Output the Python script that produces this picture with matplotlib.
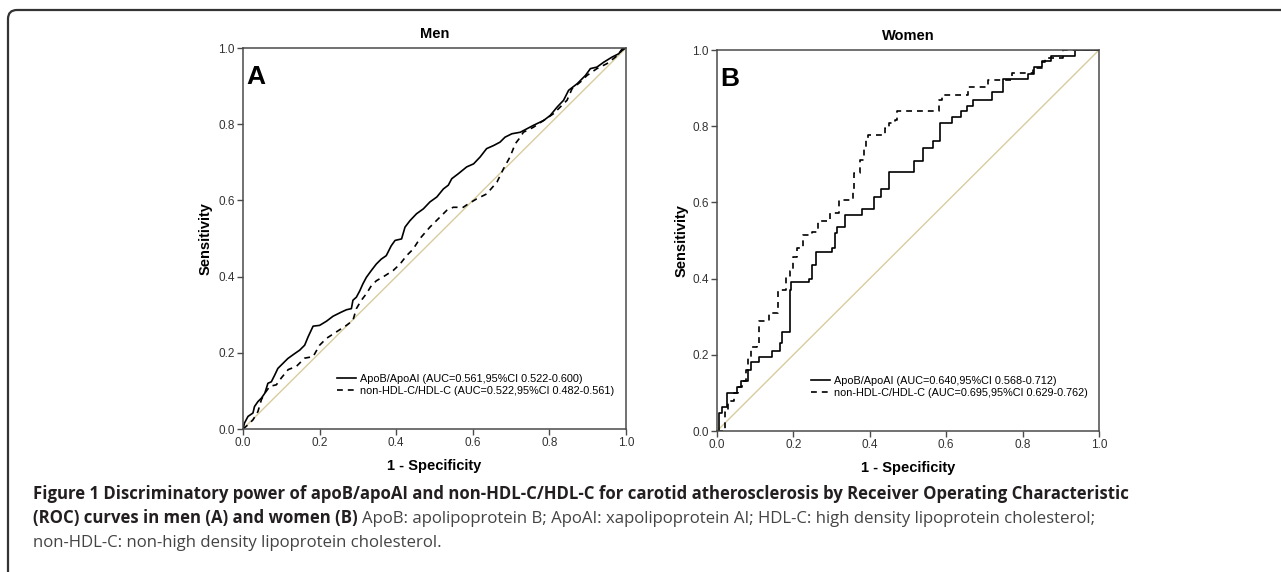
import numpy as np
import matplotlib
matplotlib.use('Agg')
import matplotlib.pyplot as plt
from matplotlib.patches import FancyBboxPatch
from matplotlib.transforms import IdentityTransform

plt.rcParams['font.family'] = ['Liberation Sans', 'DejaVu Sans']

# Men: ROC points (1 - specificity, sensitivity)
men_apob_fpr = [0.0, 0.004, 0.013, 0.026, 0.03, 0.039, 0.048, 0.057, 0.065, 0.074, 0.083, 0.091,
                0.104, 0.117, 0.135, 0.148, 0.161, 0.17, 0.183, 0.2, 0.218, 0.235, 0.257, 0.27,
                0.283, 0.287, 0.296, 0.305, 0.313, 0.322, 0.335, 0.348, 0.361, 0.374, 0.387, 0.397,
                0.414, 0.423, 0.436, 0.453, 0.471, 0.488, 0.506, 0.523, 0.536, 0.545, 0.562, 0.584,
                0.602, 0.619, 0.636, 0.654, 0.671, 0.684, 0.702, 0.724, 0.741, 0.758, 0.785, 0.802,
                0.82, 0.837, 0.85, 0.872, 0.894, 0.907, 0.924, 0.942, 0.963, 0.981, 0.99, 1.0]
men_apob_tpr = [0.0, 0.016, 0.033, 0.042, 0.059, 0.072, 0.081, 0.094, 0.12, 0.124, 0.142, 0.159,
                0.172, 0.185, 0.198, 0.207, 0.22, 0.242, 0.27, 0.272, 0.283, 0.296, 0.307, 0.313,
                0.316, 0.338, 0.346, 0.363, 0.381, 0.398, 0.416, 0.433, 0.446, 0.455, 0.481, 0.495,
                0.499, 0.53, 0.547, 0.565, 0.578, 0.596, 0.609, 0.63, 0.64, 0.657, 0.67, 0.688,
                0.696, 0.714, 0.736, 0.744, 0.753, 0.766, 0.775, 0.779, 0.788, 0.797, 0.81, 0.823,
                0.845, 0.863, 0.889, 0.906, 0.928, 0.946, 0.95, 0.963, 0.976, 0.985, 0.998, 1.0]

men_nonhdl_fpr = [0.0, 0.013, 0.026, 0.039, 0.048, 0.057, 0.07, 0.087, 0.1, 0.118, 0.139, 0.161,
                  0.183, 0.2, 0.218, 0.244, 0.27, 0.287, 0.296, 0.309, 0.322, 0.335, 0.348, 0.37,
                  0.392, 0.41, 0.427, 0.444, 0.462, 0.488, 0.51, 0.532, 0.549, 0.575, 0.588, 0.61,
                  0.636, 0.663, 0.68, 0.697, 0.711, 0.724, 0.732, 0.758, 0.785, 0.811, 0.828, 0.846,
                  0.859, 0.881, 0.898, 0.924, 0.95, 0.972, 0.99, 1.0]
men_nonhdl_tpr = [0.0, 0.011, 0.024, 0.046, 0.077, 0.094, 0.112, 0.116, 0.134, 0.156, 0.164, 0.186,
                  0.19, 0.22, 0.238, 0.255, 0.272, 0.285, 0.316, 0.338, 0.355, 0.376, 0.389, 0.402,
                  0.416, 0.433, 0.455, 0.472, 0.5, 0.53, 0.552, 0.574, 0.582, 0.582, 0.591, 0.604,
                  0.617, 0.648, 0.683, 0.714, 0.749, 0.766, 0.779, 0.792, 0.81, 0.828, 0.845, 0.863,
                  0.893, 0.911, 0.928, 0.946, 0.959, 0.976, 0.994, 1.0]

# Women: step curves, each point is (x of riser, sensitivity after the riser)
women_apob_fpr = [0.0, 0.005, 0.013, 0.026, 0.052, 0.062, 0.08, 0.09, 0.11, 0.145, 0.165, 0.17,
                  0.19, 0.195, 0.24, 0.25, 0.26, 0.30, 0.31, 0.315, 0.335, 0.38, 0.41, 0.43, 0.45,
                  0.515, 0.54, 0.565, 0.585, 0.615, 0.64, 0.655, 0.67, 0.72, 0.75, 0.814, 0.83,
                  0.85, 0.875, 0.937, 1.0]
women_apob_tpr = [0.0, 0.047, 0.063, 0.10, 0.115, 0.13, 0.16, 0.18, 0.195, 0.21, 0.23, 0.26,
                  0.37, 0.39, 0.40, 0.435, 0.47, 0.48, 0.52, 0.535, 0.567, 0.583, 0.614, 0.635, 0.68,
                  0.71, 0.743, 0.76, 0.808, 0.824, 0.84, 0.853, 0.87, 0.89, 0.924, 0.937, 0.955,
                  0.97, 0.985, 1.0, 1.0]

women_nonhdl_fpr = [0.0, 0.02, 0.03, 0.045, 0.055, 0.065, 0.075, 0.08, 0.09, 0.105, 0.11, 0.136,
                    0.16, 0.18, 0.19, 0.20, 0.21, 0.225, 0.25, 0.265, 0.296, 0.32, 0.356, 0.36,
                    0.375, 0.385, 0.39, 0.395, 0.44, 0.45, 0.465, 0.47, 0.58, 0.59, 0.657, 0.71,
                    0.772, 0.827, 0.85, 0.86, 0.906, 1.0]
women_nonhdl_tpr = [0.0, 0.05, 0.08, 0.10, 0.115, 0.13, 0.16, 0.195, 0.22, 0.23, 0.29, 0.31,
                    0.37, 0.405, 0.42, 0.457, 0.48, 0.515, 0.523, 0.55, 0.572, 0.606, 0.627, 0.677,
                    0.711, 0.742, 0.764, 0.777, 0.795, 0.808, 0.816, 0.84, 0.869, 0.882, 0.903, 0.921,
                    0.94, 0.953, 0.968, 0.979, 1.0, 1.0]

men_labels = ['ApoB/ApoAI (AUC=0.561,95%CI 0.522-0.600)',
              'non-HDL-C/HDL-C (AUC=0.522,95%CI 0.482-0.561)']
women_labels = ['ApoB/ApoAI (AUC=0.640,95%CI 0.568-0.712)',
                'non-HDL-C/HDL-C (AUC=0.695,95%CI 0.629-0.762)']
ticks = [0.0, 0.2, 0.4, 0.6, 0.8, 1.0]

DIAG = '#d8cc9e'
AXC = '#4a4a4a'

fig = plt.figure(figsize=(12.81, 5.72), dpi=100)
ax1 = fig.add_axes([0.1897, 0.25, 0.299, 0.666])
ax2 = fig.add_axes([0.5597, 0.2465, 0.2982, 0.666])


def style(ax, title, letter, ylab_x):
    ax.set_xlim(0, 1)
    ax.set_ylim(0, 1)
    ax.set_xticks(ticks)
    ax.set_yticks(ticks)
    ax.set_xticklabels(['%.1f' % t for t in ticks])
    ax.set_yticklabels(['%.1f' % t for t in ticks])
    ax.tick_params(direction='out', length=4, width=1, color=AXC, labelsize=8.5,
                   labelcolor='#333333', pad=2)
    for s in ax.spines.values():
        s.set_color(AXC)
        s.set_linewidth(1.1)
    ax.set_title(title, fontsize=10.5, fontweight='bold', pad=7)
    ax.set_xlabel('1 - Specificity', fontsize=10.5, fontweight='bold')
    ax.set_ylabel('Sensitivity', fontsize=10.5, fontweight='bold')
    ax.xaxis.set_label_coords(0.5, -0.08)
    ax.yaxis.set_label_coords(ylab_x, 0.5)
    ax.text(0.008, 0.955, letter, transform=ax.transAxes, fontsize=19,
            fontweight='bold', va='top', ha='left')
    ax.plot([0, 1], [0, 1], color=DIAG, lw=1.0, zorder=1)


style(ax1, 'Men', 'A', -0.08)
style(ax2, 'Women', 'B', -0.075)

ax1.plot(men_apob_fpr, men_apob_tpr, color='black', lw=1.2, label=men_labels[0])
ax1.plot(men_nonhdl_fpr, men_nonhdl_tpr, color='black', lw=1.2, dashes=(3.5, 3),
         label=men_labels[1])
ax2.plot(women_apob_fpr, women_apob_tpr, color='black', lw=1.2, drawstyle='steps-post',
         label=women_labels[0])
ax2.plot(women_nonhdl_fpr, women_nonhdl_tpr, color='black', lw=1.2, dashes=(3.5, 3),
         drawstyle='steps-post', label=women_labels[1])

for ax in [ax1, ax2]:
    ax.legend(loc='upper left', bbox_to_anchor=(0.245, 0.145), frameon=False, fontsize=7.8,
              handlelength=1.8, handletextpad=0.35, labelspacing=0.2, borderpad=0,
              borderaxespad=0)

# rounded frame around the figure
frame = FancyBboxPatch((8, -30), 1320, 592, boxstyle='round,pad=0,rounding_size=9',
                       transform=IdentityTransform(), fill=False, edgecolor='#333333',
                       linewidth=1.6)
fig.add_artist(frame)

# caption
cap_font = ['Open Sans', 'DejaVu Sans']
cap_size = 12.1
x0 = 33 / 1281
fig.text(x0, 1 - 499 / 572,
         'Figure 1 Discriminatory power of apoB/apoAI and non-HDL-C/HDL-C for carotid '
         'atherosclerosis by Receiver Operating Characteristic',
         family=cap_font, fontweight='bold', fontsize=cap_size, color='#231f20', va='baseline')
t2 = fig.text(x0, 1 - 523 / 572, '(ROC) curves in men (A) and women (B)',
              family=cap_font, fontweight='bold', fontsize=cap_size, color='#231f20',
              va='baseline')
fig.canvas.draw()
bb = t2.get_window_extent()
fig.text((bb.x1 + 4) / 1281, 1 - 523 / 572,
         'ApoB: apolipoprotein B; ApoAI: xapolipoprotein AI; HDL-C: high density '
         'lipoprotein cholesterol;',
         family=cap_font, fontsize=cap_size, color='#444444', va='baseline')
fig.text(x0, 1 - 547 / 572, 'non-HDL-C: non-high density lipoprotein cholesterol.',
         family=cap_font, fontsize=cap_size, color='#444444', va='baseline')

fig.savefig('out.png', dpi=100)
